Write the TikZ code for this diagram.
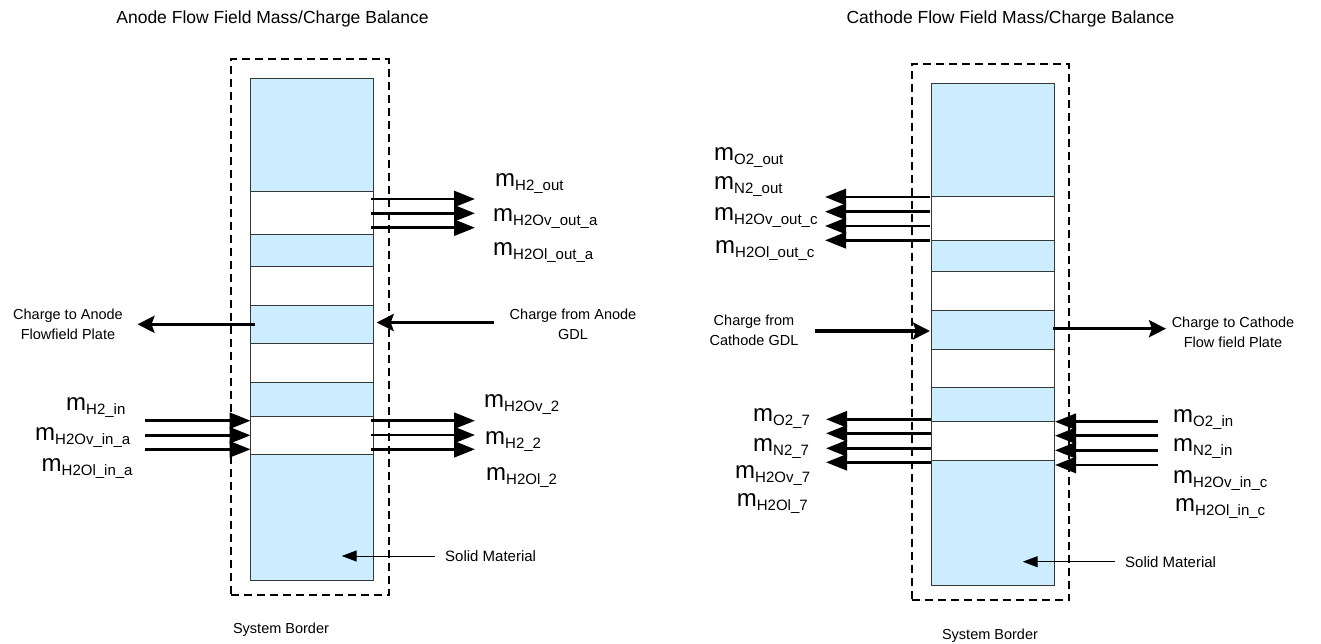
\documentclass[tikz,border=0pt]{standalone}
\usepackage{fontspec}
\setmainfont{Liberation Sans}
\usetikzlibrary{arrows.meta}
\definecolor{layerblue}{RGB}{204,236,255}
\definecolor{edgegray}{RGB}{55,55,55}
% mass flow symbol: large m with lowered subscript text
\newcommand{\mflow}[1]{{\fontsize{24}{24}\selectfont m}\raisebox{-4pt}{\fontsize{15}{15}\selectfont #1}}
\begin{document}
\begin{tikzpicture}[x=1pt,y=-1pt,
  band/.style={draw=edgegray, line width=0.9pt, minimum width=122.5pt, inner sep=0pt, outer sep=0pt},
  sysborder/.style={draw=black, line width=2pt, dash pattern=on 8pt off 5pt, inner sep=0pt, outer sep=0pt},
  flow/.style={line width=2.7pt, -{Triangle[length=21pt,width=16pt]}},
  charge/.style={line width=3.2pt, -{Stealth[length=17pt,width=17pt,inset=3pt]}},
  pointer/.style={line width=1pt, -{Triangle[length=15pt,width=11pt]}},
  mlabel/.style={anchor=base west, inner sep=0pt},
  title/.style={anchor=base, inner sep=0pt, font=\fontsize{17.5}{20}\selectfont},
  note/.style={inner sep=0pt, font=\fontsize{14.5}{20}\selectfont},
  clabel/.style={inner sep=0pt, align=center, font=\fontsize{14.5}{20}\selectfont}]
\path[use as bounding box] (0,0) rectangle (1321,643);

% ---------------- Anode flow field ----------------
\node[title] (atitle) at (272.5,23) {Anode Flow Field Mass/Charge Balance};
\foreach \ytop/\ybot/\col [count=\i] in {78.3/191.7/layerblue, 191.7/234.3/white, 234.3/266/layerblue,
    266/305.3/white, 305.3/343.3/layerblue, 343.3/382.3/white, 382.3/416/layerblue,
    416/454.7/white, 454.7/580/layerblue}
  \node[band, fill=\col, minimum height={(\ybot-\ytop)*1pt}] (A\i) at (312,{(\ytop+\ybot)/2}) {};
\node[sysborder, minimum width=157.7pt, minimum height=536pt] (aborder) at (309.85,327) {};

% outflow to the right (upper channel)
\foreach \y [count=\i] in {199,213.3,227.7} {
  \coordinate (aos\i) at (371,\y);
  \coordinate (aoe\i) at (475,\y);
  \draw[flow] (aos\i) -- (aoe\i);
}
\node[mlabel] (mh2out) at (495,186.7) {\mflow{H2\_out}};
\node[mlabel] (mh2ovouta) at (493,221.7) {\mflow{H2Ov\_out\_a}};
\node[mlabel] (mh2olouta) at (493,255) {\mflow{H2Ol\_out\_a}};

% inflow from the left (lower channel)
\foreach \y [count=\i] in {420.7,435.3,449.3} {
  \coordinate (ais\i) at (145,\y);
  \coordinate (aie\i) at (250.5,\y);
  \draw[flow] (ais\i) -- (aie\i);
}
\node[mlabel] (mh2in) at (66,410) {\mflow{H2\_in}};
\node[mlabel] (mh2ovina) at (35,440) {\mflow{H2Ov\_in\_a}};
\node[mlabel] (mh2olina) at (41.5,471.7) {\mflow{H2Ol\_in\_a}};

% outflow to the right (lower channel)
\foreach \y [count=\i] in {420.7,435,449.3} {
  \coordinate (abs\i) at (371,\y);
  \coordinate (abe\i) at (475,\y);
  \draw[flow] (abs\i) -- (abe\i);
}
\node[mlabel] (mh2ov2) at (484,407.3) {\mflow{H2Ov\_2}};
\node[mlabel] (mh22) at (485,444) {\mflow{H2\_2}};
\node[mlabel] (mh2ol2) at (486,480) {\mflow{H2Ol\_2}};

% charge transport
\node[clabel] (achgout) at (68,324) {Charge to Anode\\Flowfield Plate};
\node[clabel] (achgin) at (573,324) {Charge from Anode\\GDL};
\coordinate (acos) at (255,324.3);
\coordinate (acoe) at (137.5,324.3);
\coordinate (acis) at (494,322.5);
\coordinate (acie) at (376.7,322.5);
\draw[charge] (acos) -- (acoe);
\draw[charge] (acis) -- (acie);

% solid material pointer and border caption
\node[note, anchor=base west, font=\fontsize{15}{20}\selectfont] (asolid) at (445,561) {Solid Material};
\coordinate (asp) at (435,556);
\coordinate (ase) at (341.7,556);
\draw[pointer] (asp) -- (ase);
\node[note, anchor=base] (asys) at (281,633) {System Border};

% ---------------- Cathode flow field ----------------
\node[title] (ctitle) at (1010.5,23) {Cathode Flow Field Mass/Charge Balance};
\foreach \ytop/\ybot/\col [count=\i] in {83.3/196.7/layerblue, 196.7/240.3/white, 240.3/271.3/layerblue,
    271.3/310.3/white, 310.3/349/layerblue, 349/387.7/white, 387.7/421/layerblue,
    421/460/white, 460/585.7/layerblue}
  \node[band, fill=\col, minimum height={(\ybot-\ytop)*1pt}] (C\i) at (992.85,{(\ytop+\ybot)/2}) {};
\node[sysborder, minimum width=157.6pt, minimum height=536pt] (cborder) at (990.5,332) {};

% outflow to the left (upper channel)
\foreach \y [count=\i] in {197,211.7,226,240.3} {
  \coordinate (cos\i) at (930,\y);
  \coordinate (coe\i) at (825,\y);
  \draw[flow] (cos\i) -- (coe\i);
}
\node[mlabel] (mo2out) at (714,160) {\mflow{O2\_out}};
\node[mlabel] (mn2out) at (714,189.3) {\mflow{N2\_out}};
\node[mlabel] (mh2ovoutc) at (714,220) {\mflow{H2Ov\_out\_c}};
\node[mlabel] (mh2oloutc) at (715,253.3) {\mflow{H2Ol\_out\_c}};

% outflow to the left (lower channel)
\foreach \y [count=\i] in {419.3,433.3,448.3,462.3} {
  \coordinate (cbs\i) at (931,\y);
  \coordinate (cbe\i) at (826,\y);
  \draw[flow] (cbs\i) -- (cbe\i);
}
\node[mlabel] (mo27) at (753,421.7) {\mflow{O2\_7}};
\node[mlabel] (mn27) at (753,451) {\mflow{N2\_7}};
\node[mlabel] (mh2ov7) at (735,478.3) {\mflow{H2Ov\_7}};
\node[mlabel] (mh2ol7) at (736.7,506.7) {\mflow{H2Ol\_7}};

% inflow from the right (lower channel)
\foreach \y [count=\i] in {421.7,435.7,450.3,465} {
  \coordinate (cis\i) at (1158,\y);
  \coordinate (cie\i) at (1055,\y);
  \draw[flow] (cis\i) -- (cie\i);
}
\node[mlabel] (mo2in) at (1173,422.3) {\mflow{O2\_in}};
\node[mlabel] (mn2in) at (1173,451.7) {\mflow{N2\_in}};
\node[mlabel] (mh2ovinc) at (1173,483.3) {\mflow{H2Ov\_in\_c}};
\node[mlabel] (mh2olinc) at (1175,511.7) {\mflow{H2Ol\_in\_c}};

% charge transport
\node[clabel] (cchgin) at (754,330) {Charge from\\Cathode GDL};
\node[clabel] (cchgout) at (1233,332) {Charge to Cathode\\Flow field Plate};
\coordinate (ccis) at (815,331);
\coordinate (ccie) at (930,331);
\coordinate (ccos) at (1053,328.7);
\coordinate (ccoe) at (1166,328.7);
\draw[charge] (ccis) -- (ccie);
\draw[charge] (ccos) -- (ccoe);

% solid material pointer and border caption
\node[note, anchor=base west, font=\fontsize{15}{20}\selectfont] (csolid) at (1125,567) {Solid Material};
\coordinate (csp) at (1115,561.7);
\coordinate (cse) at (1022.7,561.7);
\draw[pointer] (csp) -- (cse);
\node[note, anchor=base] (csys) at (990,639) {System Border};
\end{tikzpicture}
\end{document}
